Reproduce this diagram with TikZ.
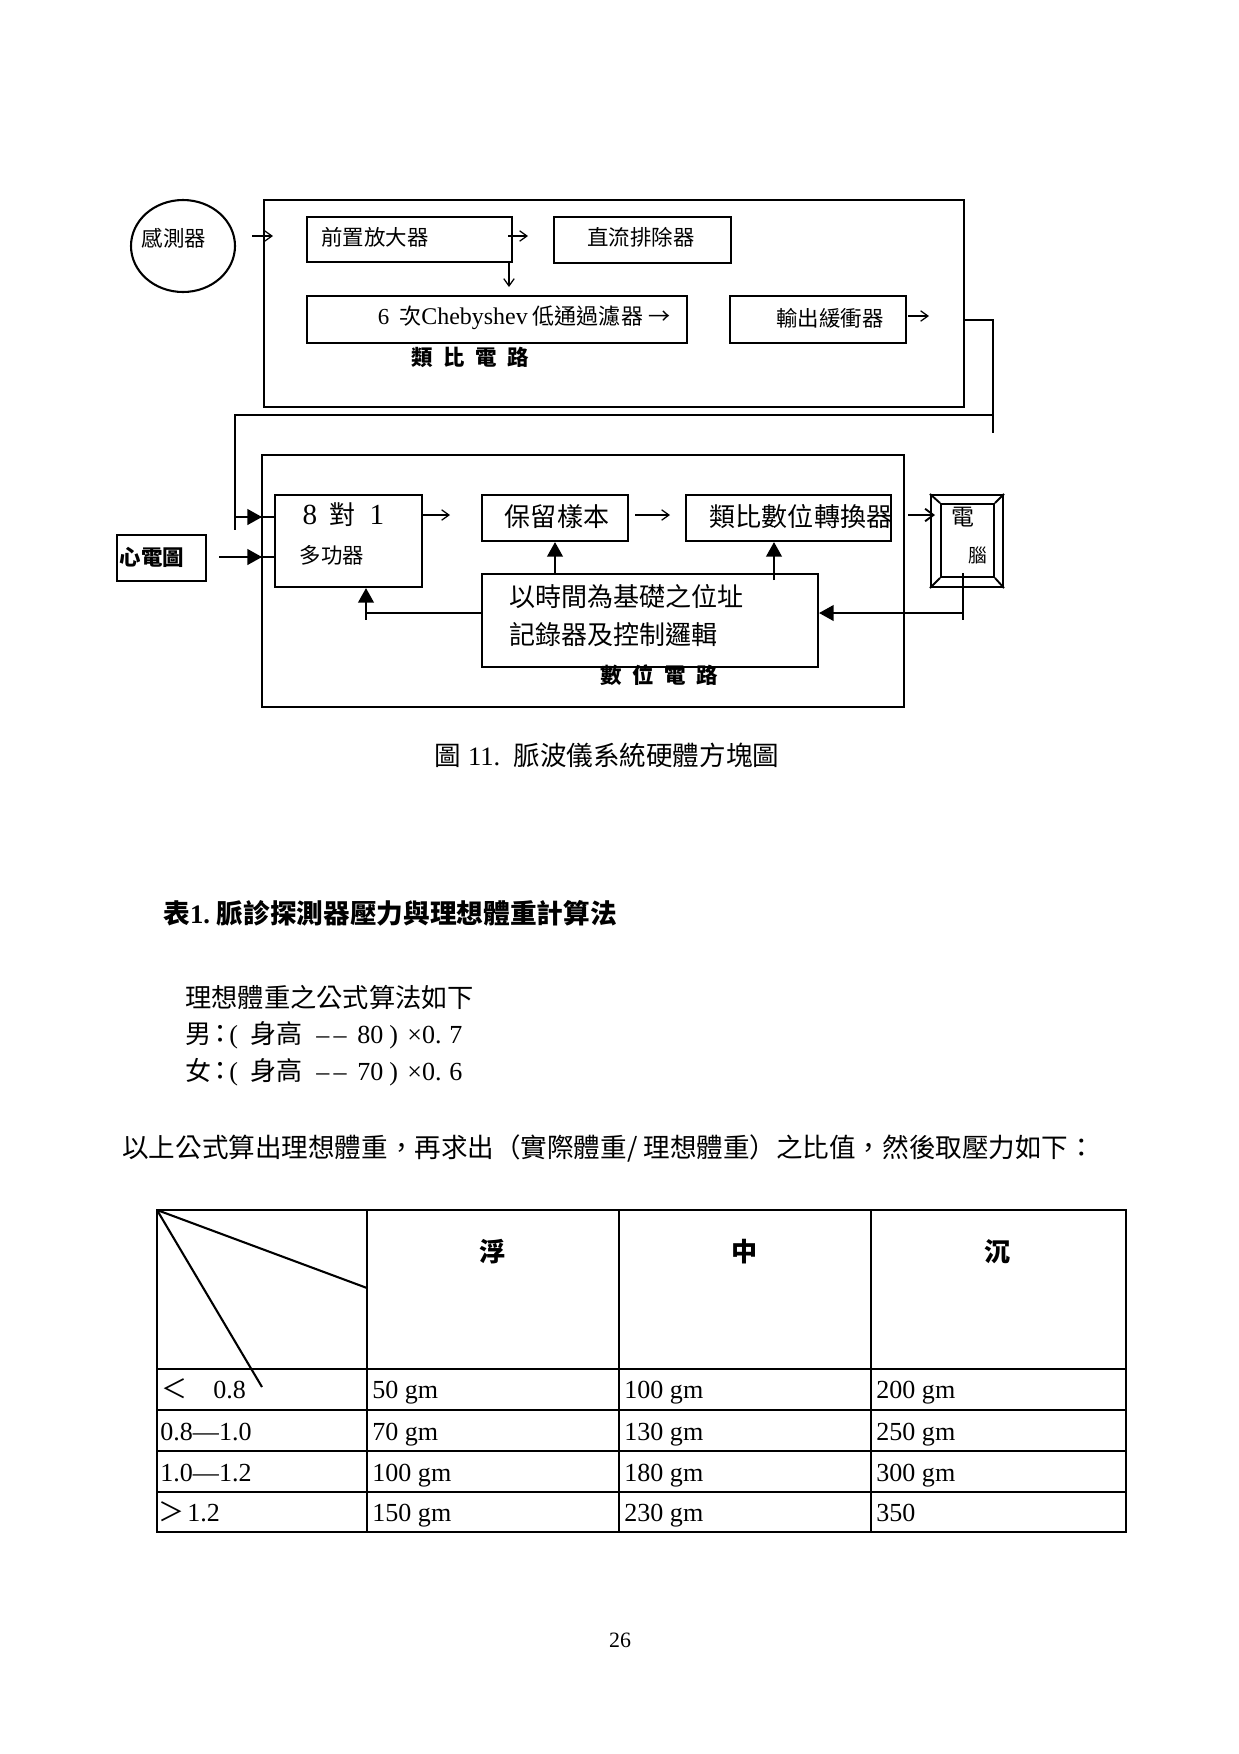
\documentclass[tikz,border=0pt]{standalone}
\usepackage{fontspec}
\setmainfont{Liberation Serif}
\newfontfamily\cjk{Noto Sans CJK TC}
\usetikzlibrary{arrows.meta,shapes.geometric}
\begin{document}
\begin{tikzpicture}[x=0.48pt,y=-0.48pt,
  sz/.style 2 args={minimum width=#1*0.48pt,minimum height=#2*0.48pt},
  frame/.style={draw,line width=1.2pt,inner sep=0},
  box/.style={draw,line width=1pt,inner sep=0},
  ln/.style={line width=1pt},
  arr/.style={line width=0.6pt,-{Straight Barb[length=3.5pt,width=5pt]}},
  farr/.style={line width=1pt,-{Triangle[length=7pt,width=7.5pt]}},
  tten/.style={inner sep=0,font=\cjk\fontsize{10.3}{12}\selectfont},
  ttenb/.style={inner sep=0,font=\cjk\bfseries\fontsize{10.3}{12}\selectfont},
  ttw/.style={inner sep=0,font=\cjk\fontsize{12.5}{15}\selectfont},
  tl/.style={line width=1pt},
  cell/.style={inner sep=0,anchor=base west,font=\fontsize{12.5}{15}\selectfont},
  fpc/.style={inner sep=0,anchor=base west,font=\fontsize{12.5}{15}\selectfont},
  fcj/.style={inner sep=0,anchor=base west,font=\cjk\fontsize{12.5}{15}\selectfont},
  hb/.style={inner sep=0,font=\cjk\bfseries\fontsize{12.5}{15}\selectfont}]
\useasboundingbox (0,0) rectangle (1239,1754);

% ---------------- analog part ----------------
\node[frame,sz={700}{207}] (analog) at (614,303.5) {};
\node[draw,ellipse,line width=1pt,inner sep=0,sz={104}{92}] (sensor) at (183,246) {};
\node[tten] (sensorT) at (174,238) {感測器};
\node[box,sz={205}{45}] (pre) at (409.5,239.5) {};
\node[tten] (preT) at (375,237) {前置放大器};
\node[box,sz={177}{46}] (dc) at (642.5,240) {};
\node[tten] (dcT) at (641,237) {直流排除器};
\node[box,sz={380}{47}] (cheb) at (497,319.5) {};
\node[tten,font=\cjk\fontsize{10.6}{12}\selectfont] (chebT) at (524,318) {{\rmfamily\fontsize{11}{12}\selectfont 6}\ \ 次{\rmfamily\fontsize{11.5}{12}\selectfont Chebyshev}\ 低通過濾器\ →};
\node[box,sz={176}{47}] (buf) at (818,319.5) {};
\node[tten] (bufT) at (830,318) {輸出緩衝器};
\node[ttenb] (analogL) at (470,357) {類\hspace{5pt}比\hspace{5pt}電\hspace{5pt}路};

\coordinate (s1) at (252,236);
\coordinate (s2) at (273,236);
\draw[arr] (s1) -- (s2);
\coordinate (p1) at (508,236);
\coordinate (p2) at (528,236);
\draw[arr] (p1) -- (p2);
\coordinate (p3) at (509,287);
\draw[arr] (pre.south -| p3) -- (p3);
\coordinate (b1) at (908,316);
\coordinate (b2) at (929,316);
\draw[arr] (b1) -- (b2);

% link analog -> digital
\coordinate (aout) at (964,320);
\coordinate (r1) at (993,320);
\coordinate (r2) at (993,433);
\coordinate (r3) at (993,415);
\coordinate (r4) at (235,415);
\coordinate (r5) at (235,530);
\coordinate (fb) at (235,517);
\coordinate (fbt) at (262,517);
\draw[ln] (aout) -- (r1) -- (r2);
\draw[ln] (r3) -- (r4) -- (r5);

% ---------------- digital part ----------------
\node[frame,sz={642}{252}] (digital) at (583,581) {};
\node[box,sz={89}{46}] (ecg) at (161.5,558) {};
\node[ttenb] (ecgT) at (152,557) {心電圖};
\node[box,sz={147}{92}] (mux) at (348.5,541) {};
\node[inner sep=0,font=\fontsize{14}{16}\selectfont] (m8) at (310,515) {8};
\node[ttw] (mdui) at (343,515) {對};
\node[inner sep=0,font=\fontsize{14}{16}\selectfont] (m1) at (377,515) {1};
\node[tten] (mfn) at (332,555) {多功器};
\node[box,sz={146}{46}] (hold) at (555,518) {};
\node[ttw] (holdT) at (557,517) {保留樣本};
\node[box,sz={205}{46}] (adc) at (788.5,518) {};
\node[ttw] (adcT) at (801,517) {類比數位轉換器};
\node[box,sz={72}{92}] (pc) at (967,541) {};
\node[draw,line width=0.9pt,inner sep=0,sz={53}{73}] (pcin) at (967.5,540.5) {};
\draw[line width=0.9pt] (pc.north west) -- (pcin.north west)
  (pc.north east) -- (pcin.north east)
  (pc.south west) -- (pcin.south west)
  (pc.south east) -- (pcin.south east);
\node[inner sep=0,font=\cjk\fontsize{11}{13}\selectfont] (pcT1) at (963,517) {電};
\node[inner sep=0,font=\cjk\fontsize{9}{11}\selectfont] (pcT2) at (978,555) {腦};
\node[box,sz={336}{93}] (ctrl) at (650,620.5) {};
\node[ttw,anchor=west] (ctrlT1) at (509,597) {以時間為基礎之位址};
\node[ttw,anchor=west] (ctrlT2) at (509,635) {記錄器及控制邏輯};
\node[ttenb] (digitalL) at (659,675) {數\hspace{5pt}位\hspace{5pt}電\hspace{5pt}路};

% inputs to mux
\draw[ln] (fb) -- (mux.west |- fb);
\draw[farr] (fb) -- (fbt);
\coordinate (e1) at (219,557);
\coordinate (e2) at (262,557);
\draw[ln] (e1) -- (mux.west |- e1);
\draw[farr] (e1) -- (e2);

% forward chain
\coordinate (h1) at (422,515);
\coordinate (h2) at (450,515);
\draw[arr] (h1) -- (h2);
\coordinate (a1) at (635,515);
\coordinate (a2) at (670,515);
\draw[arr] (a1) -- (a2);
\coordinate (c1) at (908,515);
\coordinate (c2) at (935,515);
\draw[line width=0.9pt,-{Straight Barb[length=4pt,width=6pt]}] (c1) -- (c2);

% control arrows
\draw[farr] (hold.south |- ctrl.north) -- (hold.south);
\coordinate (k1) at (774,580);
\draw[farr] (k1) -- (adc.south -| k1);
\coordinate (k2) at (482,613);
\coordinate (k3) at (366,613);
\draw[farr] (k2) -- (k3) -- (mux.south -| k3);
\draw[ln] (k3) -- ++(0,7);
\coordinate (q1) at (963,573);
\coordinate (q2) at (963,620);
\coordinate (q3) at (963,613);
\draw[ln] (q1) -- (q2);
\draw[farr] (q3) -- (ctrl.east |- q3);

% caption
\node[inner sep=0,font=\fontsize{12.75}{15}\selectfont] (cap) at (607,755) {{\cjk 圖}\ 11.\ \ {\cjk 脈波儀系統硬體方塊圖}};

% ---------------- text ----------------
\node[inner sep=0,anchor=west,font=\bfseries\fontsize{12.8}{15}\selectfont] (title) at (163,913)
  {{\cjk 表}1.\ {\cjk 脈診探測器壓力與理想體重計算法}};
\node[inner sep=0,anchor=west,font=\cjk\fontsize{12.6}{15}\selectfont] (f0) at (185,998) {理想體重之公式算法如下};
% line 1
\node[fcj] (m1a) at (185,1043) {男};
\node[fcj] (m1b) at (207,1043) {：};
\node[fpc] (m1c) at (229,1043) {(};
\node[fcj] (m1d) at (250,1043) {身高};
\node[fpc] (m1e) at (316,1043) {–\kern2pt–};
\node[fpc] (m1f) at (357,1043) {80};
\node[fpc] (m1g) at (389,1043) {)};
\node[fpc] (m1h) at (407,1043) {×0.};
\node[fpc] (m1i) at (449,1043) {7};
% line 2
\node[fcj] (m2a) at (185,1080) {女};
\node[fcj] (m2b) at (207,1080) {：};
\node[fpc] (m2c) at (229,1080) {(};
\node[fcj] (m2d) at (250,1080) {身高};
\node[fpc] (m2e) at (316,1080) {–\kern2pt–};
\node[fpc] (m2f) at (357,1080) {70};
\node[fpc] (m2g) at (389,1080) {)};
\node[fpc] (m2h) at (407,1080) {×0.};
\node[fpc] (m2i) at (449,1080) {6};

\node[inner sep=0,anchor=west,font=\cjk\fontsize{12.75}{15}\selectfont] (sent) at (122,1148)
  {以上公式算出理想體重，再求出（實際體重/ 理想體重）之比值，然後取壓力如下：};

% ---------------- table ----------------
\draw[line width=1.3pt] (157,1210) -- (1126,1210);
\draw[tl] (157,1210) rectangle (1126,1532);
\foreach \x in {367,619,871} \draw[tl] (\x,1210) -- (\x,1532);
\foreach \y in {1369,1410,1451,1492} \draw[tl] (157,\y) -- (1126,\y);
\draw[tl] (157,1210) -- (367,1288);
\draw[tl] (157,1210) -- (262,1387);
\node[hb] (hf) at (493,1252) {浮};
\node[hb] (hm) at (745,1252) {中};
\node[hb] (hs) at (998,1252) {沉};

\node[cell,font=\cjk\fontsize{12.5}{15}\selectfont] (r1a) at (161,1398) {＜};
\node[cell] (r1b) at (213,1398) {0.8};
\node[cell] (r2a) at (160,1440) {0.8—1.0};
\node[cell] (r3a) at (160,1481) {1.0—1.2};
\node[cell,font=\cjk\fontsize{12.5}{15}\selectfont] (r4a) at (158,1521) {＞};
\node[cell] (r4b) at (187,1521) {1.2};

\node[cell] (v11) at (372,1398) {50 gm};
\node[cell] (v12) at (624,1398) {100 gm};
\node[cell] (v13) at (876,1398) {200 gm};
\node[cell] (v21) at (372,1440) {70 gm};
\node[cell] (v22) at (624,1440) {130 gm};
\node[cell] (v23) at (876,1440) {250 gm};
\node[cell] (v31) at (372,1481) {100 gm};
\node[cell] (v32) at (624,1481) {180 gm};
\node[cell] (v33) at (876,1481) {300 gm};
\node[cell] (v41) at (372,1521) {150 gm};
\node[cell] (v42) at (624,1521) {230 gm};
\node[cell] (v43) at (876,1521) {350};

\node[inner sep=0,font=\fontsize{10.5}{12}\selectfont] (pg) at (620,1640) {26};
\end{tikzpicture}
\end{document}
